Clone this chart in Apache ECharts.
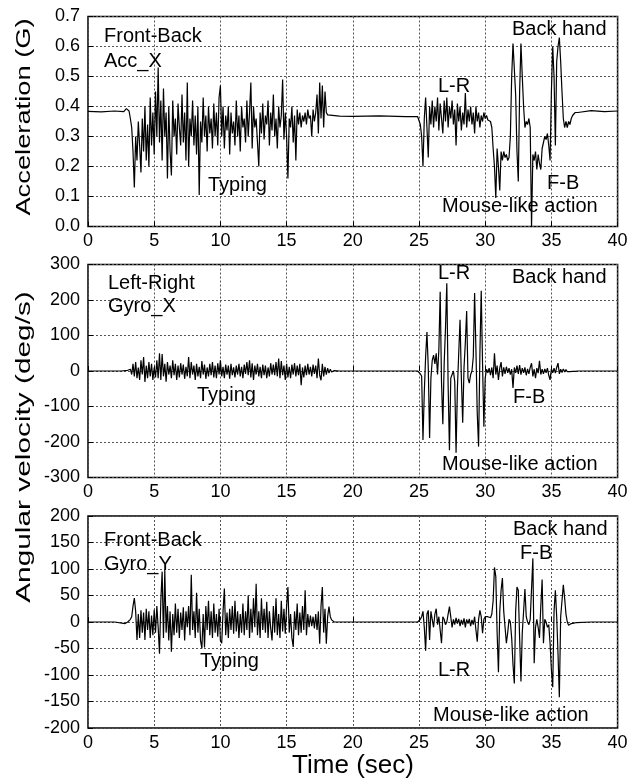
<!DOCTYPE html>
<html lang="en">
<head>
<meta charset="UTF-8" />
<title>Back hand sensor signals</title>
<script src="https://cdn.jsdelivr.net/npm/echarts@6/dist/echarts.min.js"></script>
<style>
  html, body { margin: 0; padding: 0; background: #fff; }
  #main { width: 632px; height: 780px; }
</style>
</head>
<body>
<div id="main"></div>
<script>
// sampling step of the digitised segments (sec)
var STEP = 0.1;

var timeTicks = [0, 5, 10, 15, 20, 25, 30, 35, 40];

// ---- Acc_X (G) ----
var accRest1 = [[0, 0.384], [1, 0.382], [2, 0.385], [2.7, 0.383], [2.9, 0.393], [3.1, 0.385], [3.2, 0.36]];
var accTypingStart = 3.3;
var accTyping = [
  0.33, 0.25, 0.13, 0.30, 0.22, 0.35, 0.27, 0.18, 0.36, 0.25,
  0.40, 0.22, 0.34, 0.20, 0.43, 0.27, 0.38, 0.24, 0.45, 0.30,
  0.53, 0.28, 0.42, 0.22, 0.46, 0.30, 0.38, 0.16, 0.40, 0.25,
  0.17, 0.42, 0.30, 0.36, 0.24, 0.41, 0.33, 0.27, 0.44, 0.28,
  0.38, 0.22, 0.48, 0.20, 0.36, 0.30, 0.42, 0.27, 0.37, 0.24,
  0.40, 0.105, 0.35, 0.28, 0.43, 0.30, 0.37, 0.25, 0.40, 0.31,
  0.36, 0.26, 0.41, 0.30, 0.38, 0.27, 0.43, 0.47, 0.30, 0.40,
  0.26, 0.37, 0.32, 0.40, 0.24, 0.38, 0.31, 0.35, 0.27, 0.42,
  0.30, 0.37, 0.25, 0.40, 0.33, 0.36, 0.28, 0.42, 0.30, 0.38,
  0.48, 0.26, 0.40, 0.33, 0.36, 0.28, 0.20, 0.38, 0.31, 0.41,
  0.29, 0.37, 0.34, 0.42, 0.27, 0.38, 0.32, 0.44, 0.30, 0.36,
  0.26, 0.40, 0.33, 0.37, 0.49, 0.29, 0.38, 0.30, 0.16, 0.36,
  0.33, 0.40, 0.28, 0.37, 0.22, 0.39, 0.34, 0.38, 0.33, 0.37,
  0.35, 0.38, 0.34, 0.39, 0.36, 0.37, 0.30, 0.39, 0.35, 0.38,
  0.44, 0.31, 0.48, 0.36, 0.47, 0.33, 0.45, 0.38
];
var accRest2 = [[18.1, 0.372], [19, 0.368], [20, 0.367], [22, 0.369], [24, 0.366], [24.9, 0.366]];
var accMouseStart = 25.0;
var accMouse = [
  0.365, 0.34, 0.30, 0.20, 0.36, 0.43, 0.33, 0.23, 0.40, 0.34,
  0.42, 0.33, 0.40, 0.35, 0.43, 0.32, 0.41, 0.36, 0.31, 0.42,
  0.35, 0.43, 0.33, 0.40, 0.36, 0.42, 0.34, 0.39, 0.27, 0.41,
  0.35, 0.40, 0.32, 0.38, 0.34, 0.445, 0.33, 0.39, 0.35, 0.40,
  0.34, 0.38, 0.31, 0.40, 0.35, 0.38, 0.33, 0.37, 0.35, 0.38,
  0.36, 0.37, 0.355, 0.36, 0.35, 0.33, 0.26, 0.20, 0.095, 0.26,
  0.20, 0.12, 0.25, 0.22, 0.25, 0.23, 0.24, 0.22, 0.23, 0.30,
  0.50, 0.61, 0.61, 0.44, 0.25, 0.15, 0.45, 0.61, 0.50, 0.40,
  0.33, 0.35, 0.34, 0.36, 0.33, 0.0, 0.24, 0.22, 0.25, 0.19,
  0.24, 0.21, 0.19, 0.26, 0.28, 0.30, 0.29, 0.31, 0.27, 0.22,
  0.45, 0.60, 0.50, 0.27, 0.55, 0.60, 0.63, 0.55, 0.45, 0.36,
  0.33, 0.35, 0.33, 0.35, 0.34, 0.36, 0.37, 0.375, 0.38, 0.385,
  0.38
];
var accRest3 = [[38, 0.386], [39, 0.383], [40, 0.385]];

// ---- Gyro_X (deg/s) ----
var gxRest1 = [[0, 0], [2.5, 0], [3.0, 2], [3.1, -3]];
var gxTypingStart = 3.2;
var gxTyping = [
  5, -10, 20, -15, 25, -20, 10, -25, 30, -10,
  39, -31, 15, -20, 25, -15, 20, -25, 10, -18,
  30, -20, 50, -25, 48, -15, 20, -30, 25, -10,
  15, -20, 30, -12, 20, -25, 15, -18, 22, -10,
  18, -22, 12, -15, 39, -20, 25, -10, 15, -25,
  20, -15, 12, -20, 28, -10, 18, -22, 10, -15,
  20, -12, 25, -18, 15, -20, 22, -10, 30, -15,
  12, -20, 18, -10, 15, -22, 20, -12, 10, -18,
  15, -10, 20, -15, 12, -20, 18, -8, 25, -12,
  30, -18, 22, -25, 15, -10, 20, -15, 12, -20,
  18, -12, 15, -20, 10, -15, 22, -10, 18, -12,
  25, -15, 35, -20, 28, -12, 15, -25, 20, -18,
  12, -20, 18, -10, 22, -15, 15, -12, 20, -40,
  10, -18, 15, -12, 20, -10, 12, -15, 18, -8,
  15, -20, 35, -12, -26, 20, -15, 12, -10, 8,
  -6, 5, -3, 2
];
var gxRest2 = [[18.6, 1], [19, 0], [24.9, 0]];
var gxMouseStart = 25.0;
var gxMouse = [
  0, -8, -15, -194, -60, 40, 110, 10, -189, -20,
  30, 45, 20, 50, -10, 60, 223, -30, -150, 20,
  120, 247, -40, -223, -20, -10, 0, -30, -230, -50,
  50, 144, -20, -146, 10, 80, 169, -20, -34, -10,
  0, 40, 220, 60, -120, -213, 50, 226, 20, -157,
  -20, 5, -5, 8, -12, 10, -20, 50, -10, 15,
  -25, 8, 25, -15, 10, -8, 12, -5, 8, -10,
  5, -48, 10, -5, 15, -8, 17, -10, 8, -5,
  10, -12, 6, -8, 10, 22, -15, 5, -20, 8,
  -6, 29, -10, 5, -8, 6, -5, 8, -12, -25,
  6, -5, 8, -6, 10, 22, -8, 5, -4, 6,
  -3, 4, -2, 3, -2, 3, -1, 2, -1, 1,
  0
];
var gxRest3 = [[38, 0], [40, 0]];

// ---- Gyro_Y (deg/s) ----
var gyRest1 = [[0, 0], [2, 0], [2.8, -3], [3.0, 0], [3.2, 5]];
var gyTypingStart = 3.3;
var gyTyping = [
  10, 30, 45, 20, -34, 15, -30, 22, -20, 18,
  -34, 25, -15, 20, -30, 12, -25, 23, -20, 30,
  -10, -60, 40, 95, -30, 98, -20, 30, -35, 20,
  -56, 15, -25, 35, -20, 25, -30, 18, -15, 28,
  -35, 20, -10, 30, -25, 89, -15, 20, -30, 55,
  -20, 25, -35, -50, 15, -48, 30, -15, 40, -25,
  20, -30, 35, -20, 15, -28, 25, -35, -40, 20,
  63, -25, 18, -30, 25, -15, 30, -22, 40, -18,
  20, -30, 15, -20, 35, -25, 20, -15, 50, -30,
  25, -20, 45, -10, 72, -25, 20, -30, 45, -15,
  25, -20, 38, -30, 20, -12, -35, 30, -20, 45,
  -25, 15, -30, 40, -18, 25, -22, 30, 66, -20,
  15, -30, -47, 20, -15, 35, -25, 18, -20, 30,
  -15, 60, -25, 15, -10, 12, -8, 10, -12, 15,
  -15, 20, -41, 30, 66, -20, 25, -41, 10, 29,
  10, 4, 1
];
var gyRest2 = [[18.6, 0], [20, 0], [24.9, 0]];
var gyMouseStart = 25.0;
var gyMouse = [
  0, 5, 10, 20, -10, -54, 15, 22, -34, 20,
  5, -10, 15, 25, -5, 10, -15, -40, 10, 5,
  -5, 0, 15, 29, 32, -10, 5, -5, 8, -3,
  6, -8, 4, -5, 7, -10, 5, -3, 6, -8,
  4, -5, 10, -15, -37, 5, 22, 10, -21, 5,
  10, 8, 10, 12, 8, 15, 40, 103, 86, -20,
  -95, 20, 60, 83, 20, -10, -40, -20, 5, 0,
  -30, -80, -116, 20, 66, 60, -30, -112, -20, 20,
  62, 10, 0, -5, 5, 5, 120, -78, -10, 5,
  -10, -30, 30, 80, -40, 5, 0, -10, -5, -40,
  -90, -123, 20, 60, 10, -60, -142, 10, 40, 70,
  45, 15, 0, -6, -8, -3, -4, -2, 0, -1,
  0
];
var gyRest3 = [[38, 0], [40, 0]];

function sampled(t0, vals) {
  return vals.map(function (v, i) { return [+(t0 + i * STEP).toFixed(2), v]; });
}

var accData = [].concat(accRest1, sampled(accTypingStart, accTyping), accRest2,
  sampled(accMouseStart, accMouse), accRest3);
var gxData = [].concat(gxRest1, sampled(gxTypingStart, gxTyping), gxRest2,
  sampled(gxMouseStart, gxMouse), gxRest3);
var gyData = [].concat(gyRest1, sampled(gyTypingStart, gyTyping), gyRest2,
  sampled(gyMouseStart, gyMouse), gyRest3);

var FONT = '"Liberation Sans", Arial, Helvetica, sans-serif';
var grids = [
  { left: 88, top: 16.5, width: 529.6, height: 210 },
  { left: 88, top: 264.5, width: 529.6, height: 213 },
  { left: 88, top: 516, width: 529.6, height: 212 }
];

function xAxisFor(i) {
  return {
    type: 'value', gridIndex: i, min: timeTicks[0], max: timeTicks[timeTicks.length - 1], interval: 5,
    axisLine: { show: false },
    axisTick: { show: true, inside: true, length: 5, lineStyle: { color: '#000' } },
    axisLabel: { color: '#000', fontSize: 18, fontFamily: FONT, margin: 6 },
    splitLine: { show: true, lineStyle: { color: '#555', type: [2, 2], width: 1 } }
  };
}
function yAxisFor(i, min, max, interval, fmt) {
  return {
    type: 'value', gridIndex: i, min: min, max: max, interval: interval,
    axisLine: { show: false },
    axisTick: { show: true, inside: true, length: 5, lineStyle: { color: '#000' } },
    axisLabel: { color: '#000', fontSize: 18, fontFamily: FONT, margin: 8, formatter: fmt },
    splitLine: { show: true, lineStyle: { color: '#555', type: [2, 2], width: 1 } }
  };
}

function lineSeries(i, data) {
  return {
    type: 'line', xAxisIndex: i, yAxisIndex: i, data: data,
    showSymbol: false, symbol: 'none', sampling: null, clip: true,
    lineStyle: { color: '#000', width: 1.2 }
  };
}

function note(x, y, txt) {
  return {
    type: 'text', x: x, y: y, z: 100,
    style: { text: txt, fill: '#000', font: '20px ' + FONT, textVerticalAlign: 'middle' }
  };
}

var chart = echarts.init(document.getElementById('main'));
chart.setOption({
  animation: false,
  backgroundColor: '#fff',
  grid: grids.map(function (g) {
    return Object.assign({ show: true, borderColor: '#000', borderWidth: 1.5, backgroundColor: 'transparent' }, g);
  }),
  xAxis: [xAxisFor(0), xAxisFor(1), xAxisFor(2)],
  yAxis: [
    yAxisFor(0, 0, 0.7, 0.1, function (v) { return v.toFixed(1); }),
    yAxisFor(1, -300, 300, 100),
    yAxisFor(2, -200, 200, 50)
  ],
  series: [lineSeries(0, accData), lineSeries(1, gxData), lineSeries(2, gyData)],
  graphic: [
    // panel 1
    note(104, 36, 'Front-Back'),
    note(104, 61, 'Acc_X'),
    note(208, 185, 'Typing'),
    note(438, 86, 'L-R'),
    note(512, 29, 'Back hand'),
    note(547, 183, 'F-B'),
    note(442, 206, 'Mouse-like action'),
    // panel 2
    note(108, 283, 'Left-Right'),
    note(108, 306, 'Gyro_X'),
    note(197, 395, 'Typing'),
    note(438, 273, 'L-R'),
    note(512, 277, 'Back hand'),
    note(513, 397, 'F-B'),
    note(442, 464, 'Mouse-like action'),
    // panel 3
    note(104, 540, 'Front-Back'),
    note(104, 564, 'Gyro_Y'),
    note(200, 661, 'Typing'),
    note(513, 529, 'Back hand'),
    note(520, 553, 'F-B'),
    note(438, 670, 'L-R'),
    note(433, 715, 'Mouse-like action'),
    // axis titles
    {
      type: 'text', x: 24, y: 117, rotation: Math.PI / 2, scaleX: 1.3,
      style: { text: 'Acceleration (G)', fill: '#000', font: '21px ' + FONT, textAlign: 'center', textVerticalAlign: 'middle' }
    },
    {
      type: 'text', x: 24, y: 447, rotation: Math.PI / 2, scaleX: 1.42,
      style: { text: 'Angular velocity (deg/s)', fill: '#000', font: '21px ' + FONT, textAlign: 'center', textVerticalAlign: 'middle' }
    },
    {
      type: 'text', x: 353, y: 766,
      style: { text: 'Time (sec)', fill: '#000', font: '26px ' + FONT, textAlign: 'center', textVerticalAlign: 'middle' }
    }
  ]
});
</script>
</body>
</html>
